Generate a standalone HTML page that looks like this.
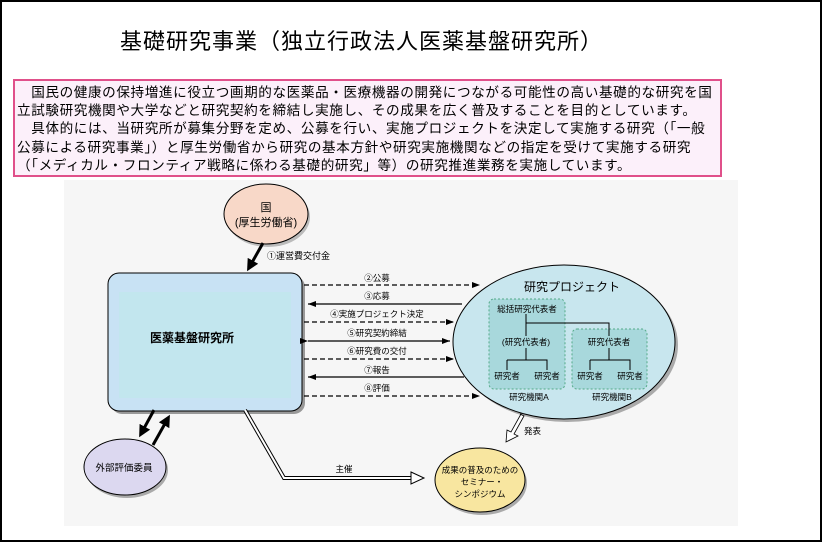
<!DOCTYPE html>
<html><head><meta charset="utf-8"><style>
body{margin:0;background:#fff;}
.f{position:absolute;left:0;top:0;width:818px;height:538px;border:2px solid #000;background:#fff;overflow:hidden;font-family:"Liberation Sans","Noto Sans CJK JP",sans-serif;}
.t{position:absolute;left:118px;top:22px;font-size:22px;letter-spacing:1px;color:#000;white-space:nowrap;}
.b{position:absolute;left:11px;top:77px;width:709px;height:98px;border:2px solid #e0508a;background:#fcf0fa;font-size:13.6px;line-height:18.2px;padding:3px 0 0 2px;box-sizing:border-box;color:#000;white-space:nowrap;letter-spacing:0.6px;}
svg{position:absolute;left:0;top:0}
svg text{font-family:"Liberation Sans","Noto Sans CJK JP",sans-serif;}
</style></head><body><div class="f">
<div class="t">基礎研究事業（独立行政法人医薬基盤研究所）</div>
<div class="b">　国民の健康の保持増進に役立つ画期的な医薬品・医療機器の開発につながる可能性の高い基礎的な研究を国<br>立試験研究機関や大学などと研究契約を締結し実施し、その成果を広く普及することを目的としています。<br>　具体的には、当研究所が募集分野を定め、公募を行い、実施プロジェクトを決定して実施する研究（「一般<br>公募による研究事業」）と厚生労働省から研究の基本方針や研究実施機関などの指定を受けて実施する研究<br>（「メディカル・フロンティア戦略に係わる基礎的研究」等）の研究推進業務を実施しています。</div>
<svg width="818" height="538" font-size="9">
<defs>
<marker id="a" markerWidth="8" markerHeight="6" refX="8" refY="3" orient="auto" markerUnits="userSpaceOnUse"><path d="M0,0L8,3L0,6z" fill="#000"/></marker>
<marker id="k" markerWidth="4" markerHeight="4" refX="2" refY="2" orient="auto"><path d="M0,0L4,2L0,4z" fill="#000"/></marker>
</defs>
<rect x="62" y="178" width="674" height="346" fill="#f6f6f6"/>
<ellipse cx="266" cy="215" rx="42" ry="30" fill="#bbb"/>
<ellipse cx="264" cy="212" rx="42" ry="30" fill="#f8d8c8" stroke="#000"/>
<text x="264" y="209" text-anchor="middle" font-size="11">国</text>
<text x="264" y="224" text-anchor="middle" font-size="11">(厚生労働省)</text>
<line x1="261" y1="241" x2="248" y2="264" stroke="#000" stroke-width="3" marker-end="url(#k)"/>
<text x="265" y="257" font-size="9">①運営費交付金</text>
<rect x="109" y="274" width="194" height="138" rx="11" fill="#999"/>
<rect x="106" y="271" width="194" height="138" rx="11" fill="#c8e2f4" stroke="#000"/>
<rect x="117" y="290" width="172" height="106" fill="#c2e6ee"/>
<text x="190" y="340" text-anchor="middle" font-size="12" font-weight="bold">医薬基盤研究所</text>
<g stroke="#000" stroke-width="1.3">
<line x1="302" y1="283" x2="478" y2="283" stroke-dasharray="5,3" marker-end="url(#a)"/>
<line x1="460" y1="302" x2="306" y2="302" marker-end="url(#a)"/>
<line x1="302" y1="320" x2="452" y2="320" stroke-dasharray="5,3" marker-end="url(#a)"/>
<line x1="306" y1="339" x2="448" y2="339" marker-end="url(#a)" marker-start="url(#a)"/>
<line x1="302" y1="357" x2="452" y2="357" stroke-dasharray="5,3" marker-end="url(#a)"/>
<line x1="462" y1="375" x2="306" y2="375" marker-end="url(#a)"/>
<line x1="302" y1="394" x2="478" y2="394" stroke-dasharray="5,3" marker-end="url(#a)"/>
</g>
<g text-anchor="middle" font-size="8.5">
<text x="375" y="279">②公募</text><text x="375" y="297">③応募</text><text x="375" y="315">④実施プロジェクト決定</text>
<text x="375" y="334">⑤研究契約締結</text><text x="375" y="352">⑥研究費の交付</text><text x="375" y="371">⑦報告</text><text x="375" y="389">⑧評価</text>
</g>
<ellipse cx="565" cy="343" rx="111" ry="77" fill="#aaa"/>
<ellipse cx="562" cy="340" rx="111" ry="77" fill="#c8e6ee" stroke="#000"/>
<text x="570" y="289" text-anchor="middle" font-size="12">研究プロジェクト</text>
<rect x="487" y="297" width="76" height="90" rx="5" fill="#a8d8dc" stroke="#5a8" stroke-dasharray="2,2"/>
<rect x="570" y="327" width="75" height="60" rx="5" fill="#a8d8dc" stroke="#5a8" stroke-dasharray="2,2"/>
<g stroke="#000" fill="none">
<path d="M524,312V334M524,321H607V334M524,346V358M505,358H545V368M505,358V368M607,346V358M588,358H628V368M588,358V368"/>
</g>
<g text-anchor="middle" font-size="8.5">
<text x="525" y="310">総括研究代表者</text><text x="524" y="343">(研究代表者)</text><text x="607" y="343">研究代表者</text>
<text x="505" y="377">研究者</text><text x="545" y="377">研究者</text><text x="588" y="377">研究者</text><text x="628" y="377">研究者</text>
<text x="527" y="398">研究機関A</text><text x="610" y="398">研究機関B</text>
</g>
<path d="M518,412L522,414L512,432L516,434L504,440L505,428L509,430L519,412z" fill="#fff" stroke="#000" stroke-width="0.8"/>
<text x="522" y="432" font-size="8.5">発表</text>
<ellipse cx="480" cy="481" rx="45" ry="32" fill="#aaa"/>
<ellipse cx="478" cy="478" rx="45" ry="32" fill="#f8e6a0" stroke="#000"/>
<g text-anchor="middle" font-size="8.5"><text x="478" y="471">成果の普及のための</text><text x="480" y="483">セミナー・</text><text x="478" y="495">シンポジウム</text></g>
<ellipse cx="125" cy="468" rx="41" ry="28" fill="#aaa"/>
<ellipse cx="123" cy="465" rx="41" ry="28" fill="#dcd8f0" stroke="#000"/>
<text x="122" y="469" text-anchor="middle" font-size="9.5">外部評価委員</text>
<line x1="152" y1="408" x2="140" y2="430" stroke="#000" stroke-width="3" marker-end="url(#k)"/>
<line x1="151" y1="443" x2="165" y2="418" stroke="#000" stroke-width="3" marker-end="url(#k)"/>
<path d="M243,408L282,476H410" fill="none" stroke="#000" stroke-width="4"/>
<path d="M243,408L282,476H410" fill="none" stroke="#fff" stroke-width="2"/>
<path d="M409,470L422,476L409,482z" fill="#fff" stroke="#000"/>
<text x="342" y="470" text-anchor="middle" font-size="8.5">主催</text>
</svg>
</div></body></html>
